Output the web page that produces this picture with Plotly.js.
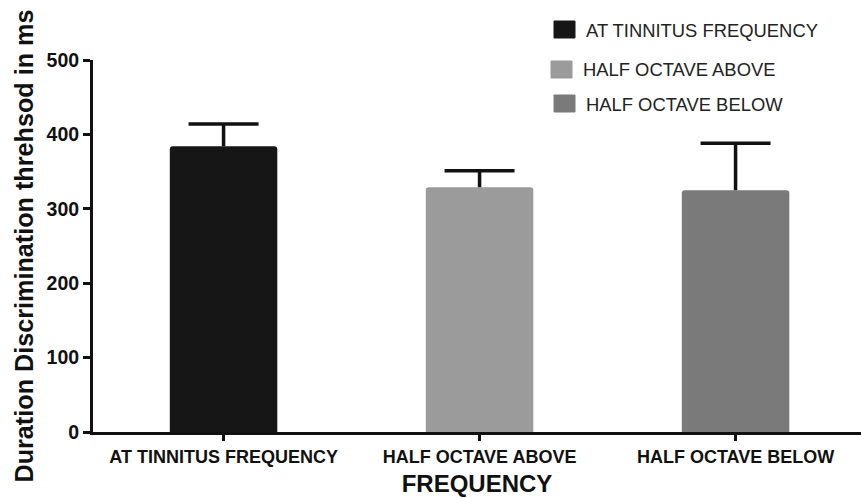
<!DOCTYPE html>
<html><head><meta charset="utf-8">
<script src="https://cdn.plot.ly/plotly-3.0.1.min.js"></script>
<style>html,body{margin:0;padding:0;background:#fff;overflow:hidden}</style>
</head><body><div id="chart" style="width:861px;height:498px"></div>
<script>
const categories = ["AT TINNITUS FREQUENCY", "HALF OCTAVE ABOVE", "HALF OCTAVE BELOW"];
const meanValues = [384, 329, 325];
const errorPlus = [30, 22, 63];
const barColors = ["#161616", "#9b9b9b", "#7a7a7a"];
const legendLabels = ["AT TINNITUS FREQUENCY", "HALF OCTAVE ABOVE", "HALF OCTAVE BELOW"];
const yTickValues = [0, 100, 200, 300, 400, 500];

const W = 861, H = 498, ML = 93, MR = 0, MT = 60, MB = 66;
const plotH = H - MT - MB, plotW = W - ML - MR;
const px2x = p => (p - ML) / plotW;
const px2y = p => (H - MB - p) / plotH;

// legend drawn as shapes + annotations (pixel placement)
const legendPos = [{sx: 554, sy: 21, tx: 584, ty: 30}, {sx: 551, sy: 61, tx: 581, ty: 70}, {sx: 554, sy: 95, tx: 584, ty: 104}];
const shapes = [], annotations = [];
legendLabels.forEach((lab, i) => {
  const p = legendPos[i];
  shapes.push({type: 'rect', xref: 'paper', yref: 'paper',
    x0: px2x(p.sx), x1: px2x(p.sx + 21), y0: px2y(p.sy), y1: px2y(p.sy + 17),
    fillcolor: barColors[i], line: {color: barColors[i], width: 1}});
  annotations.push({xref: 'paper', yref: 'paper', x: px2x(p.tx), y: px2y(p.ty),
    xanchor: 'left', yanchor: 'middle', showarrow: false, text: lab,
    font: {family: 'Liberation Sans, Arial', size: 18.4, color: '#222'}});
});

const barTrace = {
  type: 'bar', x: categories, y: meanValues, width: 0.42,
  marker: {color: barColors, cornerradius: 3, line: {width: 0}},
  hoverinfo: 'skip'
};

// upward-only error bars: stem + cap
const stemX = [], stemY = [];
categories.forEach((c, i) => {
  stemX.push(c, c, null);
  stemY.push(meanValues[i], meanValues[i] + errorPlus[i], null);
});
const stemTrace = {
  type: 'scatter', mode: 'lines', x: stemX, y: stemY,
  line: {color: '#111', width: 3.5}, hoverinfo: 'skip', cliponaxis: false
};
const capTrace = {
  type: 'scatter', mode: 'markers', x: categories, y: meanValues.map((m, i) => m + errorPlus[i]),
  marker: {symbol: 'line-ew', size: 50, color: '#111', line: {color: '#111', width: 3.5}},
  hoverinfo: 'skip', cliponaxis: false
};

const layout = {
  width: W, height: H, margin: {l: ML, r: MR, t: MT, b: MB},
  paper_bgcolor: '#fff', plot_bgcolor: '#fff', showlegend: false,
  xaxis: {range: [-0.51, 2.49], showline: true, linecolor: '#111', linewidth: 3,
    ticks: 'outside', ticklen: 6, tickwidth: 3, tickcolor: '#111',
    tickfont: {family: 'Liberation Sans, Arial', size: 18, weight: 'bold', color: '#111'},
    title: {text: 'FREQUENCY', standoff: 10, font: {family: 'Liberation Sans, Arial', size: 24, weight: 'bold', color: '#111'}},
    automargin: false, showgrid: false, zeroline: false, fixedrange: true},
  yaxis: {range: [0, 500], tickvals: yTickValues, showline: true, linecolor: '#111', linewidth: 3,
    ticks: 'outside', ticklen: 7, tickwidth: 3, tickcolor: '#111',
    tickfont: {family: 'Liberation Sans, Arial', size: 19.5, weight: 'bold', color: '#111'},
    title: {text: 'Duration Discrimination threhsod in ms', standoff: 6, font: {family: 'Liberation Sans, Arial', size: 25.2, weight: 'bold', color: '#111'}},
    automargin: false, showgrid: false, zeroline: false, fixedrange: true},
  shapes: shapes, annotations: annotations
};

Plotly.newPlot('chart', [barTrace, stemTrace, capTrace], layout, {displayModeBar: false, staticPlot: true});
</script></body></html>
